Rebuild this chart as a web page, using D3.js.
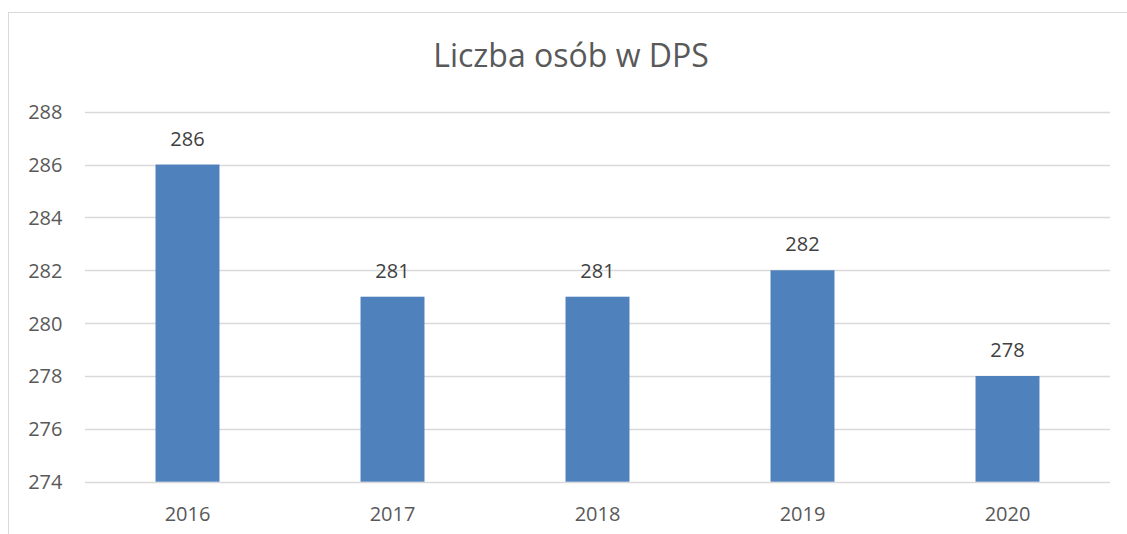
<!DOCTYPE html>
<html><head><meta charset="utf-8">
<script src="https://cdn.jsdelivr.net/npm/d3@7"></script>
<style>html,body{margin:0;padding:0;background:#fff;}svg{display:block;}</style>
</head><body>
<script>
const categories = ["2016","2017","2018","2019","2020"];
const values = [286, 281, 281, 282, 278];
const yTicks = [274, 276, 278, 280, 282, 284, 286, 288];
const title = "Liczba osób w DPS";

(function () {
const W = 1127, H = 534;
const font = "'Open Sans', 'Liberation Sans', sans-serif";
const svg = d3.select("body").append("svg").attr("width", W).attr("height", H);

// chart frame (partially cropped)
svg.append("rect").attr("x", 8.5).attr("y", 12.5).attr("width", 1200).attr("height", 600)
  .attr("fill", "#fff").attr("stroke", "#d9d9d9").attr("stroke-width", 1);

const pLeft = 85, pRight = 1110, pTop = 111.7, pBottom = 481.7;
const x = d3.scaleBand().domain(categories).range([pLeft, pRight]).paddingInner(0.688).paddingOuter(0.344);
const y = d3.scaleLinear().domain([274, 288]).range([pBottom, pTop]);

// gridlines
svg.append("g").selectAll("line").data(yTicks).join("line")
  .attr("x1", pLeft).attr("x2", pRight)
  .attr("y1", d => Math.round(y(d)) + 0.5).attr("y2", d => Math.round(y(d)) + 0.5)
  .attr("stroke", "#d9d9d9").attr("stroke-width", 1.3);

// y axis labels
const yAxis = d3.axisLeft(y).tickValues(yTicks).tickSize(0).tickPadding(0);
const gy = svg.append("g").attr("transform", `translate(62.5,0)`).call(yAxis);
gy.select(".domain").remove();
gy.selectAll("text").attr("font-family", font).attr("font-size", 20).attr("fill", "#595959").attr("dy", "0.35em");

// x axis labels
const xAxis = d3.axisBottom(x).tickSize(0).tickPadding(0);
const gx = svg.append("g").attr("transform", `translate(0,${pBottom})`).call(xAxis);
gx.select(".domain").remove();
gx.selectAll("text").attr("font-family", font).attr("font-size", 20).attr("fill", "#595959").attr("dy", "0.35em").attr("y", 32);

// bars
svg.append("g").selectAll("rect").data(values).join("rect")
  .attr("x", (d, i) => x(categories[i]))
  .attr("width", x.bandwidth())
  .attr("y", d => y(d))
  .attr("height", d => pBottom - y(d))
  .attr("fill", "#4f81bd");

// data labels
svg.append("g").selectAll("text").data(values).join("text")
  .attr("x", (d, i) => x(categories[i]) + x.bandwidth() / 2)
  .attr("y", d => y(d) - 26)
  .attr("dy", "0.35em")
  .attr("text-anchor", "middle")
  .attr("font-family", font).attr("font-size", 20).attr("fill", "#404040")
  .text(d => d);

// title
svg.append("text").attr("x", 571).attr("y", 56).attr("dy", "0.35em")
  .attr("text-anchor", "middle").attr("font-family", font).attr("font-size", 32)
  .attr("fill", "#595959").text(title);
})();
</script>
</body></html>
